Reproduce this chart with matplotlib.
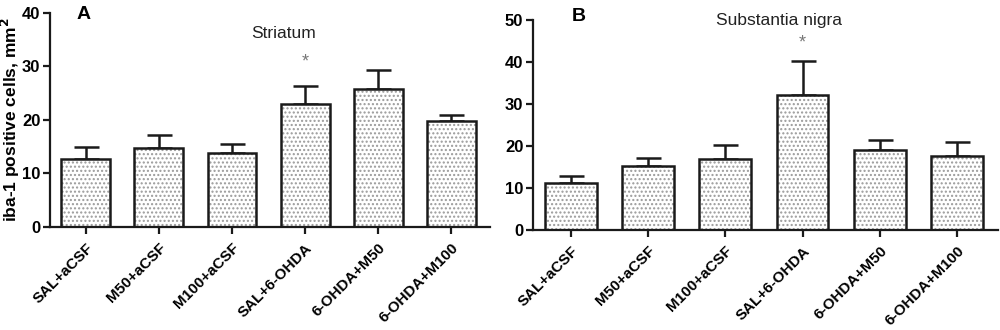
import matplotlib
matplotlib.use("Agg")
import matplotlib.pyplot as plt
import numpy as np

plt.rcParams['font.family'] = ['Liberation Sans', 'DejaVu Sans']
plt.rcParams['hatch.linewidth'] = 1.0

groups = ["SAL+aCSF", "M50+aCSF", "M100+aCSF", "SAL+6-OHDA", "6-OHDA+M50", "6-OHDA+M100"]

# Striatum
str_mean = [12.8, 14.8, 13.8, 22.9, 25.8, 19.8]
str_err = [2.1, 2.4, 1.7, 3.4, 3.6, 1.1]
# Substantia nigra
sn_mean = [11.2, 15.2, 16.8, 32.1, 19.1, 17.6]
sn_err = [1.6, 1.9, 3.4, 8.2, 2.4, 3.4]

str_star = 30.8
sn_star = 44.5

fig = plt.figure(figsize=(10, 3.3), dpi=100)
axA = fig.add_axes([0.05, 0.312, 0.44, 0.649])
axB = fig.add_axes([0.533, 0.303, 0.465, 0.636])


def draw(ax, means, errs, ymax, step, title, title_y, star_y):
    x = np.arange(len(means))
    # dotted fill
    ax.bar(x, means, width=0.67, color='white', edgecolor='#9a9a9a', hatch='....', linewidth=0, zorder=2)
    ax.bar(x, means, width=0.67, fill=False, edgecolor='#1a1a1a', linewidth=1.8, zorder=3)
    ax.errorbar(x, means, yerr=[np.zeros(len(errs)), errs], fmt='none', ecolor='#1a1a1a',
                elinewidth=1.8, capsize=9, capthick=1.8, zorder=1)
    ax.set_xlim(-0.49, len(means) - 0.47)
    ax.set_ylim(0, ymax)
    ax.set_yticks(np.arange(0, ymax + 1, step))
    ax.set_xticks(x)
    ax.set_xticklabels(groups, rotation=45, ha='right', rotation_mode='anchor', fontweight='bold', fontsize=11)
    for lab in ax.get_yticklabels():
        lab.set_fontweight('bold')
        lab.set_fontsize(12)
    for s in ['top', 'right']:
        ax.spines[s].set_visible(False)
    for s in ['left', 'bottom']:
        ax.spines[s].set_linewidth(1.6)
        ax.spines[s].set_color('#1a1a1a')
    ax.tick_params(axis='both', direction='out', length=5, width=1.6, color='#1a1a1a', pad=2)
    ax.tick_params(axis='x', pad=5)
    ax.text(0.53, title_y, title, transform=ax.transAxes, ha='center', va='center', fontsize=12.5, color='#222222')
    ax.text(3, star_y, '*', ha='center', va='center', fontsize=13, color='#777777')


draw(axA, str_mean, str_err, 40, 10, "Striatum", 0.905, str_star)
draw(axB, sn_mean, sn_err, 50, 10, "Substantia nigra", 1.0, sn_star)

fig.text(0.077, 0.955, "A", ha='left', va='center', fontsize=14, fontweight='bold')
fig.text(0.572, 0.95, "B", ha='left', va='center', fontsize=14, fontweight='bold')

axA.set_ylabel("iba-1 positive cells, mm$^\\mathbf{2}$", fontweight='bold', fontsize=12.5)
axA.yaxis.set_label_coords(-0.064, 0.5)

fig.savefig("out.png", dpi=100)
